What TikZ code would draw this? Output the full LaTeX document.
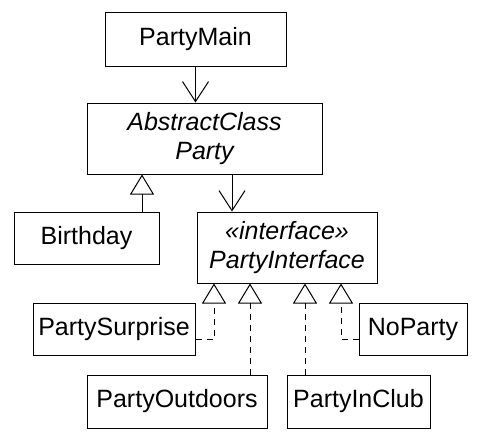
\documentclass[tikz,border=0pt]{standalone}
\usepackage{fontspec}
\setmainfont{Liberation Sans}
\usetikzlibrary{arrows.meta}
\begin{document}
\begin{tikzpicture}[
        x=1pt, y=-1pt,
        every node/.style={draw, line width=1pt, inner sep=0pt, align=center, font=\fontsize{25}{29}\selectfont},
        assoc/.style={draw, line width=1pt, -{Straight Barb[length=20pt, width=26pt, line width=1pt]}},
        inherit/.style={draw, line width=1pt, -{Triangle[open, length=20pt, width=24pt, line width=1pt]}},
        realize/.style={inherit, dash pattern=on 6pt off 5pt}
        ]
    \useasboundingbox (0,0) rectangle (480,442);
    \node (main)     [minimum width=181pt, minimum height=54pt] at (195.5,39)  {PartyMain};
    \node (abstract) [minimum width=235pt, minimum height=71pt] at (204.5,138.5) {\itshape AbstractClass\\\itshape Party};
    \node (birthday) [minimum width=145pt, minimum height=52pt] at (86.5,238) {Birthday};
    \node (interf)   [minimum width=180pt, minimum height=71pt] at (287,247.5) {\itshape «interface»\\\itshape PartyInterface};
    \node (surprise) [minimum width=162pt, minimum height=52pt] at (114,329) {PartySurprise};
    \node (noparty)  [minimum width=108pt, minimum height=52pt] at (413,329) {NoParty};
    \node (outdoors) [minimum width=180pt, minimum height=53pt] at (177,401.5) {PartyOutdoors};
    \node (inclub)   [minimum width=143pt, minimum height=53pt] at (358.5,401.5) {PartyInClub};
    \coordinate (b1) at (142,0);
    \coordinate (a1) at (232,0);
    \coordinate (r1) at (214,0);
    \coordinate (r2) at (250,0);
    \coordinate (r3) at (305,0);
    \coordinate (r4) at (341,0);
    \draw[assoc] (main.south) -- (main.south |- abstract.north);
    \draw[assoc] (abstract.south -| a1) -- (interf.north -| a1);
    \draw[inherit] (birthday.north -| b1) -- (abstract.south -| b1);
    \draw[realize] ([yshift=-10pt]surprise.east) -| (interf.south -| r1);
    \draw[realize] (outdoors.north -| r2) -- (interf.south -| r2);
    \draw[realize] (inclub.north -| r3) -- (interf.south -| r3);
    \draw[realize] ([yshift=-10pt]noparty.west) -| (interf.south -| r4);
\end{tikzpicture}
\end{document}
